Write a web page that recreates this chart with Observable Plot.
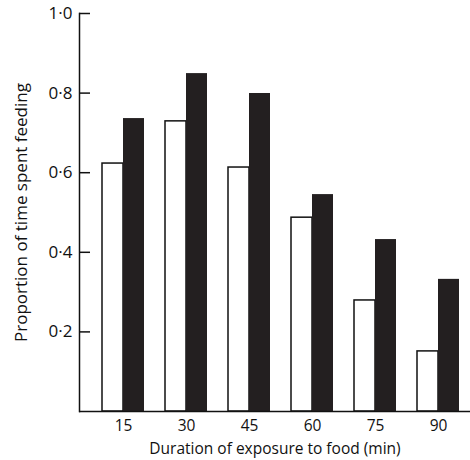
<!DOCTYPE html>
<html>
<head>
<meta charset="utf-8">
<script src="https://cdn.jsdelivr.net/npm/d3@7"></script>
<script src="https://cdn.jsdelivr.net/npm/@observablehq/plot@0.6"></script>
<style>
  html, body { margin: 0; padding: 0; background: #fff; }
</style>
</head>
<body>
<div id="chart"></div>
<script>
const durations = ["15", "30", "45", "60", "75", "90"];
const openBars = [0.623, 0.729, 0.613, 0.487, 0.279, 0.151];
const filledBars = [0.736, 0.849, 0.799, 0.545, 0.432, 0.332];
const yTicks = [0.2, 0.4, 0.6, 0.8, 1.0];
const xTitle = "Duration of exposure to food (min)";
const yTitle = "Proportion of time spent feeding";

const openData = durations.map((d, i) => ({duration: d, value: openBars[i]}));
const filledData = durations.map((d, i) => ({duration: d, value: filledBars[i]}));

const fmt = (v) => v.toFixed(1).replace(".", "·");

const chart = Plot.plot({
  width: 470,
  height: 460,
  marginLeft: 79,
  marginRight: 0,
  marginTop: 13,
  marginBottom: 49,
  style: {fontFamily: "'Open Sans', sans-serif", fontSize: "15.5px", color: "#111", background: "#fff"},
  x: {domain: durations, range: [100, 461], paddingInner: 0.34, paddingOuter: 0},
  y: {domain: [0, 1], range: [411, 13]},
  marks: [
    Plot.barY(openData, {x: "duration", y: "value", fill: "white", stroke: "#111", strokeWidth: 1.5, insetRight: 21}),
    Plot.barY(filledData, {x: "duration", y: "value", fill: "#231f20", insetLeft: 21}),
    Plot.ruleY([0], {stroke: "#111", strokeWidth: 1.5}),
    Plot.frame({anchor: "left", stroke: "#111", strokeWidth: 1.5}),
    Plot.axisY(yTicks, {anchor: "left", tickSize: -11, tickPadding: 18, tickFormat: fmt, strokeWidth: 1.5, fontSize: 17, label: yTitle, labelAnchor: "center", labelArrow: "none", labelOffset: 65}),
    Plot.axisX({anchor: "bottom", tickSize: 0, tickPadding: 8, fontSize: 15.5, label: xTitle, labelAnchor: "center", labelArrow: "none", labelOffset: 42})
  ]
});
document.getElementById("chart").appendChild(chart);
</script>
</body>
</html>
